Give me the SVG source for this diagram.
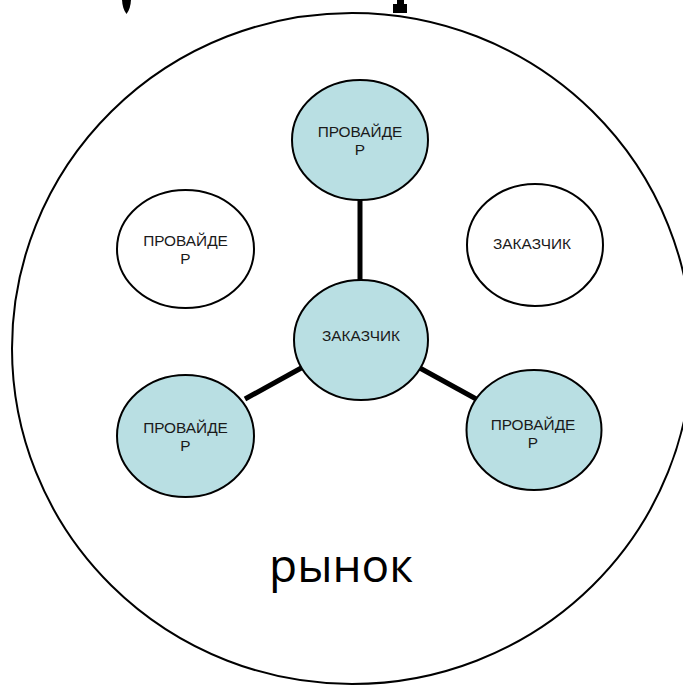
<svg xmlns="http://www.w3.org/2000/svg" width="683" height="685" viewBox="0 0 683 685">
<style>
.c{stroke:#000;stroke-width:2}
.b{fill:#b9dfe3}
.w{fill:#fff}
.t{font-family:"Liberation Sans",Arial,sans-serif;font-size:15.4px;fill:#1a1a1a;text-anchor:middle}
.k{stroke:#000;stroke-width:5;fill:none}
</style>
<rect width="683" height="685" fill="#fff"/>
<g id="fragments">
<path d="M122,0 L131,0 Q130.5,9 126.5,14 Q122.5,9 122,0 Z" fill="#000"/>
<path d="M397,0 L404,0 L404,4 L407,4 L407,13 L393,13 L393,4 L397,4 Z" fill="#000"/>
</g>
<g id="market">
<ellipse cx="352" cy="348.5" rx="340" ry="335.5" fill="none" stroke="#000" stroke-width="2"/>
<text x="341" y="582" style="font-family:'Open Sans','Noto Sans',sans-serif;font-size:46px;fill:#000;text-anchor:middle">рынок</text>
</g>
<g id="connectors">
<line class="k" x1="360" y1="200" x2="360" y2="281"/>
<line class="k" x1="303" y1="367" x2="245" y2="399"/>
<line class="k" x1="418" y1="367" x2="478" y2="400"/>
</g>
<g id="provider-top">
<ellipse class="c b" cx="360" cy="140" rx="68" ry="60"/>
<text class="t" x="360" y="137">ПРОВАЙДЕ</text>
<text class="t" x="360" y="155">Р</text>
</g>
<g id="provider-left">
<ellipse class="c w" cx="185.5" cy="249" rx="68.5" ry="59"/>
<text class="t" x="185.5" y="246">ПРОВАЙДЕ</text>
<text class="t" x="185.5" y="264">Р</text>
</g>
<g id="customer-right">
<ellipse class="c w" cx="535" cy="245" rx="68" ry="61"/>
<text class="t" x="532" y="248.5">ЗАКАЗЧИК</text>
</g>
<g id="customer-center">
<ellipse class="c b" cx="361" cy="340" rx="67" ry="60"/>
<text class="t" x="361" y="340.5">ЗАКАЗЧИК</text>
</g>
<g id="provider-bottom-left">
<ellipse class="c b" cx="185.5" cy="436" rx="68.5" ry="61"/>
<text class="t" x="185.5" y="433">ПРОВАЙДЕ</text>
<text class="t" x="185.5" y="451">Р</text>
</g>
<g id="provider-bottom-right">
<ellipse class="c b" cx="534" cy="430" rx="67.5" ry="60"/>
<text class="t" x="533" y="430">ПРОВАЙДЕ</text>
<text class="t" x="533" y="448">Р</text>
</g>
</svg>
